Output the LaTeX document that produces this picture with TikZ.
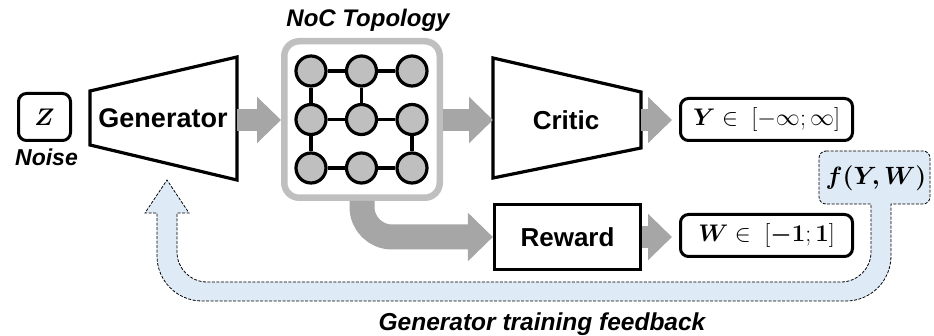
\RequirePackage{fix-cm}
\documentclass[tikz,border=0pt]{standalone}
\usepackage{fontspec}
\setmainfont{Liberation Sans}
\usepackage{bm}
\usetikzlibrary{arrows.meta}
\definecolor{arrgray}{HTML}{A6A6A6}
\definecolor{nocgray}{HTML}{BFBFBF}
\definecolor{fbblue}{HTML}{DEEBF7}
\begin{document}
\begin{tikzpicture}[x=1pt,y=-1pt,
  blk/.style={line width=3.2pt, line join=miter},
  lbl/.style={font=\fontsize{27}{30}\selectfont\bfseries, inner sep=0pt},
  ital/.style={font=\fontsize{23}{26}\selectfont\bfseries\itshape, inner sep=0pt},
  mathbox/.style={draw, line width=3pt, rounded corners=8pt, inner sep=0pt, font=\fontsize{24}{28}\selectfont},
  bigarrow/.style={draw=arrgray, line width=22pt, -{Triangle[length=24pt,width=45pt]}},
  router/.style={circle, draw, fill=nocgray, line width=3.2pt, minimum size=30pt, inner sep=0pt},
  link/.style={line width=3.5pt},
  fb/.style={fill=fbblue, draw=black, line width=0.8pt, dash pattern=on 3pt off 1.5pt},
]
\useasboundingbox (0,0) rectangle (934,336);

% feedback loop (f box + loop + arrow)
\path[fb] (826,151) -- (923,151) arc[start angle=-90, end angle=0, radius=7]
  -- (930,197) arc[start angle=0, end angle=90, radius=7]
  -- (891,204) -- (891,256) arc[start angle=0, end angle=90, radius=45]
  -- (202,301) arc[start angle=90, end angle=180, radius=45]
  -- (157,213) -- (145,213) -- (167,180) -- (189,213) -- (177,213)
  -- (177,252) arc[start angle=180, end angle=90, radius=30]
  -- (841,282) arc[start angle=90, end angle=0, radius=30]
  -- (871,204) -- (826,204) arc[start angle=90, end angle=180, radius=7]
  -- (819,158) arc[start angle=180, end angle=270, radius=7] -- cycle;
\node[inner sep=0pt, font=\fontsize{25}{28}\selectfont] (f) at (876,178) {$\bm{f(Y,W)}$};

% noise
\node[mathbox, font=\fontsize{24}{28}\selectfont, minimum width=52pt, minimum height=47pt] (z) at (44.5,117) {$\bm{Z}$};
\node[ital, anchor=base] (noise) at (46.5,166) {Noise};

% generator
\draw[blk] (90,91) -- (237,57) -- (237,180) -- (90,145) -- cycle;
\node[lbl] (gen) at (163,118) {Generator};
\coordinate (genout) at (237,120);

% NoC
\node[draw=nocgray, fill=white, line width=6.5pt, rounded corners=15pt, minimum width=155.5pt, minimum height=156.5pt] (noc) at (362,119.5) {};
\node[ital, font=\fontsize{24}{28}\selectfont\bfseries\itshape, anchor=base] (noct) at (368,27) {NoC Topology};
\foreach \c/\x in {1/311,2/361.5,3/412}{
  \foreach \r/\y in {1/71,2/119.5,3/168}{
    \node[router] (r\r\c) at (\x,\y) {};
  }
}
\draw[link] (r11) -- (r12); \draw[link] (r12) -- (r13);
\draw[link] (r21) -- (r22); \draw[link] (r22) -- (r23);
\draw[link] (r31) -- (r32); \draw[link] (r32) -- (r33);
\draw[link] (r11) -- (r21); \draw[link] (r12) -- (r22);
\draw[link] (r21) -- (r31); \draw[link] (r23) -- (r33);

% critic
\draw[blk] (493,58) -- (641,92) -- (641,148) -- (493,178) -- cycle;
\node[lbl, font=\fontsize{26}{30}\selectfont\bfseries] (critic) at (566,120) {Critic};
\coordinate (critin) at (493,120);
\coordinate (critout) at (641,120);

% reward
\node[draw, line width=3.2pt, minimum width=146pt, minimum height=65pt, lbl, font=\fontsize{26}{30}\selectfont\bfseries] (reward) at (567.5,237) {Reward};

% outputs
\node[mathbox, minimum width=172pt, minimum height=42pt] (ybox) at (766.5,119.5) {$\bm{Y}\in\ [-\infty;\infty]$};
\node[mathbox, minimum width=172pt, minimum height=42pt] (wbox) at (766.5,235.5) {$\bm{W}\in\ [\bm{-1};\bm{1}]$};

% gray arrows
\draw[bigarrow] (genout) -- (genout -| noc.west);
\draw[bigarrow] (noc.east |- critin) -- (critin);
\draw[bigarrow] (critout) -- ([xshift=-7pt]ybox.west |- critout);
\draw[bigarrow] (reward.east) -- ([xshift=-7pt]wbox.west |- reward.east);
\draw[draw=arrgray, line width=25pt, rounded corners=30pt, -{Triangle[length=25pt,width=47pt]}] (noc.south) |- (reward.west);

% caption
\node[ital, font=\fontsize{24.5}{28}\selectfont\bfseries\itshape, anchor=base] (cap) at (542,331) {Generator training feedback};
\end{tikzpicture}
\end{document}
